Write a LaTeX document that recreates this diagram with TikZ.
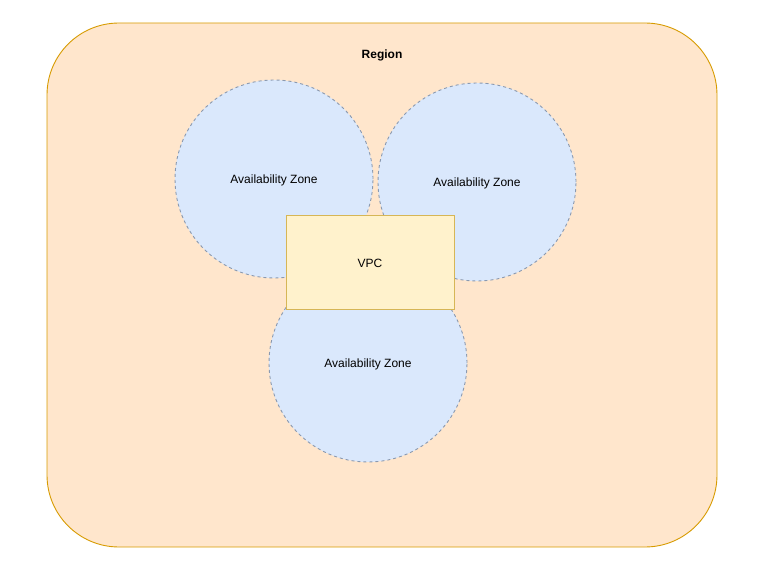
\documentclass[tikz,border=0pt]{standalone}
\usepackage{fontspec}
\setmainfont{Liberation Sans}
\definecolor{regfill}{HTML}{FFE6CC}
\definecolor{regdraw}{HTML}{D79B00}
\definecolor{azfill}{HTML}{DAE8FC}
\definecolor{azdraw}{HTML}{8A99B0}
\definecolor{vpcfill}{HTML}{FFF2CC}
\definecolor{vpcdraw}{HTML}{D6B656}
\begin{document}
\begin{tikzpicture}[x=1pt,y=-1pt,
  azone/.style={circle,fill=azfill,draw=azdraw,dash pattern=on 3pt off 3pt,line width=0.9pt,minimum size=198pt,inner sep=0pt},
  vpcbox/.style={rectangle,fill=vpcfill,draw=vpcdraw,line width=0.9pt,minimum width=168pt,minimum height=94pt,inner sep=0pt},
  txt/.style={font=\fontsize{12}{14}\selectfont,inner sep=0pt},
  lbl/.style={font=\fontsize{12}{14}\selectfont\bfseries,inner sep=0pt}]
\useasboundingbox (0,0) rectangle (772,578);
\draw[fill=regfill,draw=regdraw,line width=0.9pt,rounded corners=72pt] (47,23) rectangle (717,547);
\node[lbl] (region) at (382,55.5) {Region};
\node[azone] (az1) at (274,179) {};
\node[azone] (az2) at (477,182) {};
\node[azone] (az3) at (368,363) {};
\node[txt] (t1) at (274,180) {Availability Zone};
\node[txt] (t2) at (477,183) {Availability Zone};
\node[txt] (t3) at (368,364) {Availability Zone};
\node[vpcbox] (vpc) at (370,262) {};
\node[txt] (tv) at (370,263) {VPC};
\end{tikzpicture}
\end{document}
